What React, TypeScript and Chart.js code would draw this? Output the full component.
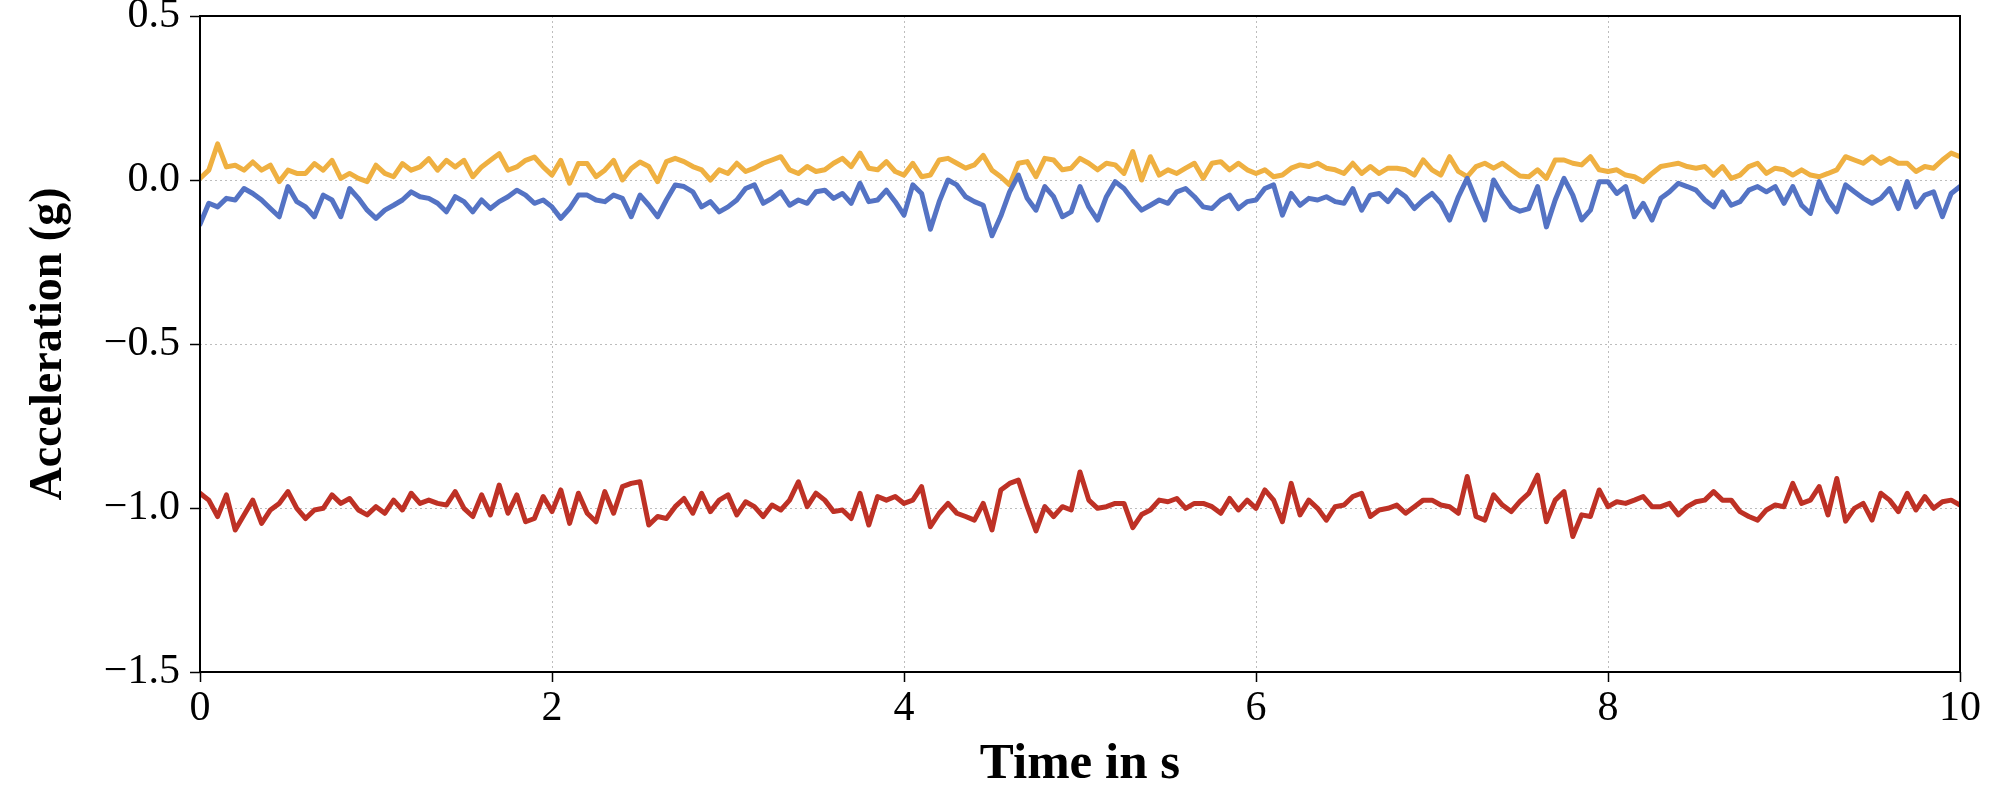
import React, { useEffect, useRef } from 'react'
import Chart from 'chart.js/auto'

// sample step of the recorded signals (s)
const SAMPLE_STEP = 0.05

const xTicks = [0, 2, 4, 6, 8, 10]
const yTicks = [-1.5, -1.0, -0.5, 0.0, 0.5]

const accY = [
  0.005, 0.03, 0.11, 0.04, 0.045, 0.03, 0.055, 0.03, 0.045, -0.005,
  0.03, 0.02, 0.02, 0.05, 0.03, 0.06, 0.005, 0.02, 0.005, -0.005,
  0.045, 0.02, 0.01, 0.05, 0.03, 0.04, 0.065, 0.03, 0.06, 0.04,
  0.06, 0.01, 0.04, 0.06, 0.08, 0.03, 0.04, 0.06, 0.07, 0.04,
  0.015, 0.06, -0.01, 0.05, 0.05, 0.01, 0.03, 0.06, 0.0, 0.035,
  0.055,
  0.041, -0.005, 0.056, 0.066, 0.056, 0.041, 0.031, 0.0, 0.031, 0.02,
  0.051, 0.026, 0.036, 0.051, 0.061, 0.071, 0.031, 0.02, 0.041, 0.026,
  0.031, 0.051, 0.066, 0.041, 0.082, 0.036, 0.031, 0.056, 0.026, 0.015,
  0.051, 0.01, 0.015, 0.061, 0.066, 0.051, 0.036, 0.046, 0.075, 0.03,
  0.01, -0.015, 0.051, 0.056, 0.01, 0.066, 0.061, 0.031, 0.036, 0.066,
  0.051, 0.031, 0.051, 0.046, 0.02, 0.087, 0.0, 0.071, 0.015, 0.031,
  0.02, 0.036, 0.051, 0.005, 0.051, 0.056, 0.031, 0.051, 0.031, 0.02,
  0.031, 0.01, 0.015, 0.036, 0.046, 0.041, 0.051, 0.036, 0.031, 0.02,
  0.051, 0.02, 0.041, 0.02, 0.036, 0.036, 0.031, 0.015, 0.061, 0.031,
  0.015, 0.071, 0.026, 0.01, 0.041, 0.051, 0.036, 0.051, 0.031, 0.012,
  0.01, 0.031, 0.005, 0.061, 0.061, 0.051, 0.046, 0.071, 0.031, 0.026,
  0.031, 0.015, 0.01, -0.005, 0.02, 0.041, 0.046, 0.051, 0.041, 0.036,
  0.041, 0.015, 0.041, 0.005, 0.015, 0.041, 0.051, 0.02, 0.036, 0.031,
  0.015, 0.031, 0.015, 0.01, 0.02, 0.031, 0.071, 0.061, 0.051, 0.071,
  0.051, 0.066, 0.051, 0.051, 0.026, 0.041, 0.036, 0.061, 0.082, 0.071,
]

const accX = [
  -0.135, -0.071, -0.082, -0.056, -0.061, -0.026, -0.041, -0.061, -0.087, -0.112,
  -0.02, -0.066, -0.082, -0.112, -0.046, -0.061, -0.112, -0.026, -0.056, -0.092,
  -0.117, -0.092, -0.077, -0.061, -0.036, -0.051, -0.056, -0.071, -0.097, -0.051,
  -0.066, -0.097, -0.061, -0.087, -0.066, -0.051, -0.031, -0.046, -0.071, -0.061,
  -0.082, -0.117, -0.087, -0.046, -0.046, -0.061, -0.066, -0.046, -0.056, -0.112,
  -0.046,
  -0.077, -0.112, -0.061, -0.015, -0.02, -0.036, -0.082, -0.066, -0.097, -0.082,
  -0.061, -0.026, -0.015, -0.071, -0.056, -0.036, -0.077, -0.061, -0.071, -0.036,
  -0.031, -0.056, -0.041, -0.071, -0.01, -0.066, -0.061, -0.031, -0.066, -0.107,
  -0.015, -0.041, -0.15, -0.066, 0.0, -0.015, -0.051, -0.066, -0.077, -0.17,
  -0.11, -0.036, 0.015, -0.056, -0.092, -0.02, -0.051, -0.112, -0.097, -0.02,
  -0.082, -0.122, -0.051, -0.005, -0.026, -0.061, -0.092, -0.077, -0.061, -0.071,
  -0.036, -0.026, -0.051, -0.082, -0.087, -0.061, -0.046, -0.087, -0.066, -0.061,
  -0.026, -0.015, -0.107, -0.041, -0.077, -0.056, -0.061, -0.051, -0.066, -0.071,
  -0.026, -0.092, -0.046, -0.041, -0.066, -0.031, -0.051, -0.087, -0.061, -0.041,
  -0.071, -0.122, -0.051, 0.005, -0.061, -0.122, 0.0, -0.046, -0.082, -0.095,
  -0.087, -0.02, -0.143, -0.061, 0.005, -0.046, -0.122, -0.092, -0.005, -0.005,
  -0.041, -0.02, -0.112, -0.071, -0.122, -0.056, -0.036, -0.01, -0.02, -0.031,
  -0.061, -0.082, -0.036, -0.077, -0.066, -0.031, -0.02, -0.036, -0.02, -0.071,
  -0.02, -0.077, -0.102, -0.005, -0.061, -0.097, -0.015, -0.036, -0.056, -0.071,
  -0.056, -0.026, -0.087, -0.005, -0.082, -0.046, -0.036, -0.112, -0.041, -0.02,
]

const accZ = [
  -0.955, -0.976, -1.026, -0.96, -1.067, -1.021, -0.976, -1.047, -1.006, -0.986,
  -0.95, -1.001, -1.032, -1.006, -1.001, -0.96, -0.986, -0.971, -1.006, -1.021,
  -0.996, -1.016, -0.976, -1.006, -0.955, -0.986, -0.976, -0.986, -0.991, -0.95,
  -1.001, -1.026, -0.96, -1.021, -0.93, -1.016, -0.96, -1.042, -1.032, -0.965,
  -1.011, -0.945, -1.047, -0.955, -1.016, -1.042, -0.95, -1.016, -0.935, -0.925,
  -0.92,
  -1.052, -1.026, -1.032, -0.996, -0.971, -1.016, -0.955, -1.011, -0.976, -0.96,
  -1.021, -0.981, -0.996, -1.026, -0.991, -1.006, -0.976, -0.92, -0.996, -0.955,
  -0.976, -1.011, -1.006, -1.032, -0.955, -1.052, -0.965, -0.976, -0.965, -0.986,
  -0.976, -0.935, -1.057, -1.016, -0.986, -1.016, -1.026, -1.037, -0.986, -1.067,
  -0.945, -0.925, -0.915, -0.996, -1.07, -0.996, -1.026, -0.996, -1.006, -0.89,
  -0.976, -1.001, -0.996, -0.986, -0.986, -1.06, -1.02, -1.006, -0.976, -0.981,
  -0.971, -1.001, -0.986, -0.986, -0.996, -1.016, -0.971, -1.006, -0.976, -1.001,
  -0.945, -0.976, -1.042, -0.925, -1.021, -0.976, -1.001, -1.037, -0.996, -0.991,
  -0.965, -0.955, -1.026, -1.006, -1.001, -0.991, -1.016, -0.996, -0.976, -0.976,
  -0.991, -0.996, -1.016, -0.904, -1.026, -1.037, -0.96, -0.991, -1.011, -0.98,
  -0.955, -0.9, -1.042, -0.976, -0.95, -1.087, -1.021, -1.026, -0.945, -0.996,
  -0.981, -0.986, -0.976, -0.965, -0.996, -0.996, -0.986, -1.021, -0.996, -0.981,
  -0.976, -0.95, -0.976, -0.976, -1.011, -1.026, -1.037, -1.006, -0.991, -0.996,
  -0.925, -0.986, -0.976, -0.935, -1.021, -0.91, -1.04, -1.001, -0.986, -1.037,
  -0.955, -0.976, -1.011, -0.955, -1.006, -0.965, -1.001, -0.981, -0.976, -0.991,
]

const colors = {
  x: '#5473C4',
  y: '#EFB041',
  z: '#BE3125',
}

const toPoints = (values: number[]) =>
  values.map((v, i) => ({ x: i * SAMPLE_STEP, y: v }))

const formatY = (v: number) => (v < 0 ? '\u2212' : '') + Math.abs(v).toFixed(1)

// black frame on all four sides of the plot area
const framePlugin = {
  id: 'frame',
  afterDatasetsDraw(chart: Chart) {
    const { ctx, chartArea } = chart
    ctx.save()
    ctx.strokeStyle = '#000'
    ctx.lineWidth = 2
    ctx.strokeRect(chartArea.left, chartArea.top, chartArea.right - chartArea.left, chartArea.bottom - chartArea.top)
    ctx.restore()
  },
}

export default function App() {
  const chartRef = useRef<HTMLCanvasElement | null>(null)
  const chartInstance = useRef<Chart | null>(null)

  useEffect(() => {
    document.body.style.margin = '0'
    if (!chartRef.current) return
    const ctx = chartRef.current.getContext('2d')
    if (!ctx) return
    if (chartInstance.current) chartInstance.current.destroy()

    const line = (label: string, values: number[], color: string) => ({
      label,
      data: toPoints(values),
      borderColor: color,
      backgroundColor: color,
      borderWidth: 5,
      pointRadius: 0,
      tension: 0,
      borderJoinStyle: 'round' as const,
      borderCapStyle: 'round' as const,
    })

    chartInstance.current = new Chart(ctx, {
      type: 'line',
      data: {
        datasets: [
          line('x', accX, colors.x),
          line('y', accY, colors.y),
          line('z', accZ, colors.z),
        ],
      },
      options: {
        animation: false,
        responsive: true,
        maintainAspectRatio: false,
        layout: { padding: { top: 16, right: 40, left: 0, bottom: 0 } },
        plugins: {
          legend: { display: false },
          tooltip: { enabled: false },
        },
        scales: {
          x: {
            type: 'linear',
            min: 0,
            max: 10,
            afterBuildTicks: (scale: any) => {
              scale.ticks = xTicks.map(v => ({ value: v }))
            },
            afterFit: (scale: any) => {
              scale.height = 128
            },
            ticks: {
              color: '#000',
              padding: 2,
              maxRotation: 0,
              font: { family: '"Liberation Serif", serif', size: 42 },
              callback: (v: any) => String(v),
            },
            grid: {
              color: '#bdbdbd',
              lineWidth: 1,
              tickColor: '#000',
              tickWidth: 1.5,
              tickLength: 10,
            },
            border: { display: false, dash: [2, 3] },
            title: {
              display: true,
              text: 'Time in s',
              color: '#000',
              padding: { top: 0, bottom: 5 },
              font: { family: '"Liberation Serif", serif', size: 51, weight: 'bold' },
            },
          },
          y: {
            type: 'linear',
            min: -1.5,
            max: 0.5,
            afterBuildTicks: (scale: any) => {
              scale.ticks = yTicks.map(v => ({ value: v }))
            },
            afterFit: (scale: any) => {
              scale.width = 200
            },
            ticks: {
              color: '#000',
              padding: 10,
              font: { family: '"Liberation Serif", serif', size: 42, lineHeight: 0.25 },
              callback: (v: any) => formatY(Number(v)),
            },
            grid: {
              color: '#bdbdbd',
              lineWidth: 1,
              tickColor: '#000',
              tickWidth: 1.5,
              tickLength: 10,
            },
            border: { display: false, dash: [2, 3] },
            title: {
              display: true,
              text: 'Acceleration (g)',
              color: '#000',
              padding: { top: 22, bottom: 0 },
              font: { family: '"Liberation Serif", serif', size: 46, weight: 'bold' },
            },
          },
        },
      },
      plugins: [framePlugin],
    })

    return () => {
      if (chartInstance.current) {
        chartInstance.current.destroy()
        chartInstance.current = null
      }
    }
  }, [])

  return (
    <div style={{ width: 2000, height: 800, background: '#fff' }}>
      <canvas ref={chartRef} />
    </div>
  )
}
